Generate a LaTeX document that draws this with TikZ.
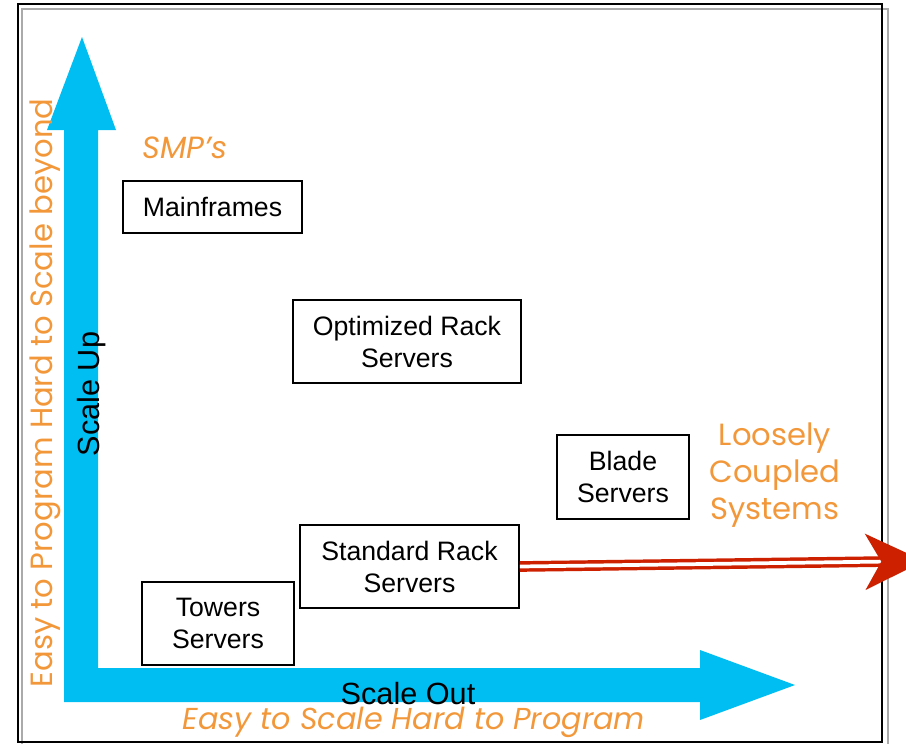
\documentclass[tikz,border=0pt]{standalone}
\usepackage{fontspec}
\setmainfont{Liberation Sans}
\newfontfamily\gothic{Poppins}
\definecolor{axisblue}{RGB}{0, 190, 242}
\definecolor{labelorange}{RGB}{242, 152, 58}
\definecolor{arrowred}{RGB}{204, 32, 0}
\definecolor{framegray}{RGB}{170, 170, 170}
\usetikzlibrary{arrows.meta}

\begin{document}
\begin{tikzpicture}[x=0.75pt, y=-0.75pt,
    serverbox/.style={draw, line width=1.5pt, align=center, inner sep=2pt,
      font=\fontsize{20}{24}\selectfont},
    axislabel/.style={font=\fontsize{23}{27}\selectfont},
    hint/.style={text=labelorange, align=center, font=\gothic\fontsize{23}{27.75}\selectfont}]
  \useasboundingbox (0,0) rectangle (906,743);

  % Frame
  \draw[framegray, line width=1.5pt] (22,9) rectangle (888,760);
  \draw[line width=1.5pt] (18,4) rectangle (882,742);

  % Blue axes (scale up / scale out)
  \coordinate (origin) at (64,702);
  \coordinate (uptip) at (82,37);
  \coordinate (outtip) at (795,685);
  \fill[axisblue] (origin) -- (64,130) -- (47,130) -- (uptip) -- (116,130) -- (98,130)
    -- (98,668) -- (700,668) -- (700,650) -- (outtip) -- (700,720) -- (700,702) -- cycle;

  % Server classes
  \node[serverbox, minimum width=134pt, minimum height=39pt] (mainframes) at (212.5,207) {Mainframes};
  \node[serverbox, minimum width=171pt, minimum height=62pt] (optrack) at (407,341.5) {Optimized Rack\\Servers};
  \node[serverbox, minimum width=99pt, minimum height=63pt] (blade) at (623,477) {Blade\\Servers};
  \node[serverbox, minimum width=164pt, minimum height=62pt] (stdrack) at (409.5,566.5) {Standard Rack\\Servers};
  \node[serverbox, minimum width=114pt, minimum height=62pt] (towers) at (218,623.5) {Towers\\Servers};

  % Loosely coupled direction
  \coordinate (farend) at (924,561);
  \draw[arrowred, line width=2.6pt, double=white, double distance=2.8pt,
    -{Stealth[length=44pt, width=42pt, inset=12pt]}] (stdrack.east) -- (farend);

  % Axis labels
  \node[axislabel] (scaleout) at (408,694) {Scale Out};
  \node[axislabel, rotate=90] (scaleup) at (92,394) {Scale Up};

  % Orange annotations
  \node[hint, font=\gothic\itshape\fontsize{23}{27.75}\selectfont] (smp) at (185,148) {SMP’s};
  \node[hint] (loose) at (775,475) {Loosely\\Coupled\\Systems};
  \node[hint, font=\gothic\itshape\fontsize{22.7}{27.75}\selectfont] (easyscale) at (414,722) {Easy to Scale Hard to Program};
  \node[hint, rotate=90] (easyprog) at (45,393) {Easy to Program Hard to Scale beyond};
\end{tikzpicture}
\end{document}
